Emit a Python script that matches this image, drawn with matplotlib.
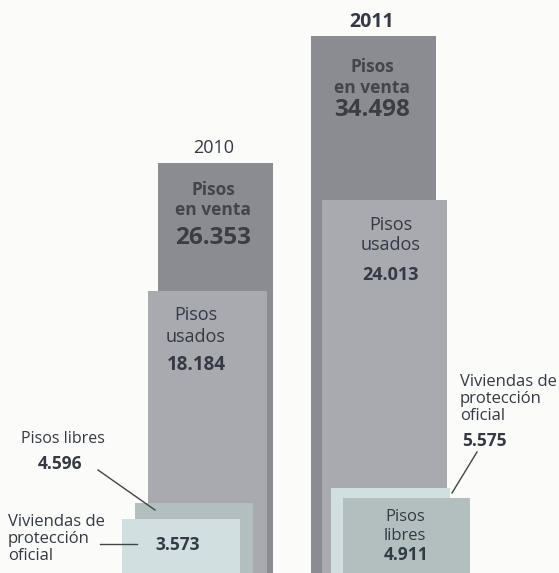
import matplotlib.pyplot as plt

plt.rcParams['font.family'] = ['Open Sans', 'DejaVu Sans']

# values read from the graphic
years = ['2010', '2011']
en_venta = [26353, 34498]
usados = [18184, 24013]
libres = [4596, 4911]
vpo = [3573, 5575]

# colours
c_venta = '#8a8c92'
c_usados = '#a8aaaf'
c_libres = '#b3bfbf'
c_vpo = '#d1dfe0'
txt = '#343944'

# layout: left edge / width in pixels for each bar
venta_x, venta_w = [158, 311], [115, 125]
usados_x, usados_w = [148, 322], [119, 125]
libres_x, libres_w = [135, 343], [118, 127]
vpo_x, vpo_w = [122, 331], [118, 119]

W, H = 559, 573
fig = plt.figure(figsize=(W / 100, H / 100), dpi=100)
fig.patch.set_facecolor('#fbfbfa')
ax = fig.add_axes([0, 0, 1, 1])
ax.set_facecolor('#fbfbfa')
ax.set_xlim(0, W)
# baseline sits just below the bottom edge
scale = 0.015596  # px per unit
ax.set_ylim(1.5 / scale, 574.5 / scale)
ax.axis('off')

ax.bar(venta_x, en_venta, venta_w, align='edge', color=c_venta, zorder=1)
ax.bar(usados_x, usados, usados_w, align='edge', color=c_usados, zorder=2)
# 2010: libres behind vpo, 2011: vpo behind libres
ax.bar(libres_x[0], libres[0], libres_w[0], align='edge', color=c_libres, zorder=3)
ax.bar(vpo_x[0], vpo[0], vpo_w[0], align='edge', color=c_vpo, zorder=4)
ax.bar(vpo_x[1], vpo[1], vpo_w[1], align='edge', color=c_vpo, zorder=3)
ax.bar(libres_x[1], libres[1], libres_w[1], align='edge', color=c_libres, zorder=4)

# overlay in pixel coords for the labels
ov = fig.add_axes([0, 0, 1, 1])
ov.set_xlim(0, W)
ov.set_ylim(H, 0)
ov.axis('off')
ov.patch.set_alpha(0)


def fmt(v):
    return f'{v:,}'.replace(',', '.')


# year titles
ov.text(214, 148, years[0], ha='center', va='center', fontsize=13, color=txt)
ov.text(372, 22, years[1], ha='center', va='center', fontsize=14, color=txt,
        fontweight='bold')

# pisos en venta
for cx, ys, v in [(213, (190, 210, 238), en_venta[0]),
                  (372, (67, 88, 110), en_venta[1])]:
    ov.text(cx, ys[0], 'Pisos', ha='center', va='center', fontsize=12.5,
            fontweight='bold', color='#42454c')
    ov.text(cx, ys[1], 'en venta', ha='center', va='center', fontsize=12.5,
            fontweight='bold', color='#42454c')
    ov.text(cx, ys[2], fmt(v), ha='center', va='center', fontsize=17.5,
            fontweight='bold', color='#3a3d44')

# pisos usados
for cx, ys, v, fs in [(196, (315, 337, 365), usados[0], 13.5),
                      (391, (225, 245, 275), usados[1], 13)]:
    ov.text(cx, ys[0], 'Pisos', ha='center', va='center', fontsize=13, color=txt)
    ov.text(cx, ys[1], 'usados', ha='center', va='center', fontsize=13, color=txt)
    ov.text(cx, ys[2], fmt(v), ha='center', va='center', fontsize=fs,
            fontweight='bold', color=txt)

# pisos libres 2010 (outside)
ov.text(63, 439, 'Pisos libres', ha='center', va='center', fontsize=11.5, color=txt)
ov.text(60, 464, fmt(libres[0]), ha='center', va='center', fontsize=12.5,
        fontweight='bold', color=txt)
ov.plot([98, 155], [470, 510], color='#444', lw=1.0)

# vpo 2010
ov.text(8, 539, 'Viviendas de\nprotección\noficial', ha='left', va='center',
        fontsize=12, color=txt, linespacing=1.07)
ov.plot([100, 137], [544, 544], color='#444', lw=1.0)
ov.text(178, 545, fmt(vpo[0]), ha='center', va='center', fontsize=12.5,
        fontweight='bold', color=txt)

# vpo 2011 (outside)
ov.text(460, 399, 'Viviendas de\nprotección\noficial', ha='left', va='center',
        fontsize=12, color=txt, linespacing=1.08)
ov.text(462, 441, fmt(vpo[1]), ha='left', va='center', fontsize=12.5,
        fontweight='bold', color=txt)
ov.plot([477, 452], [452, 493], color='#444', lw=1.0)

# pisos libres 2011 (inside)
ov.text(405, 517, 'Pisos', ha='center', va='center', fontsize=12, color=txt)
ov.text(405, 536, 'libres', ha='center', va='center', fontsize=12, color=txt)
ov.text(406, 555, fmt(libres[1]), ha='center', va='center', fontsize=12.5,
        fontweight='bold', color=txt)

fig.savefig('out.png', dpi=100, facecolor=fig.get_facecolor())
